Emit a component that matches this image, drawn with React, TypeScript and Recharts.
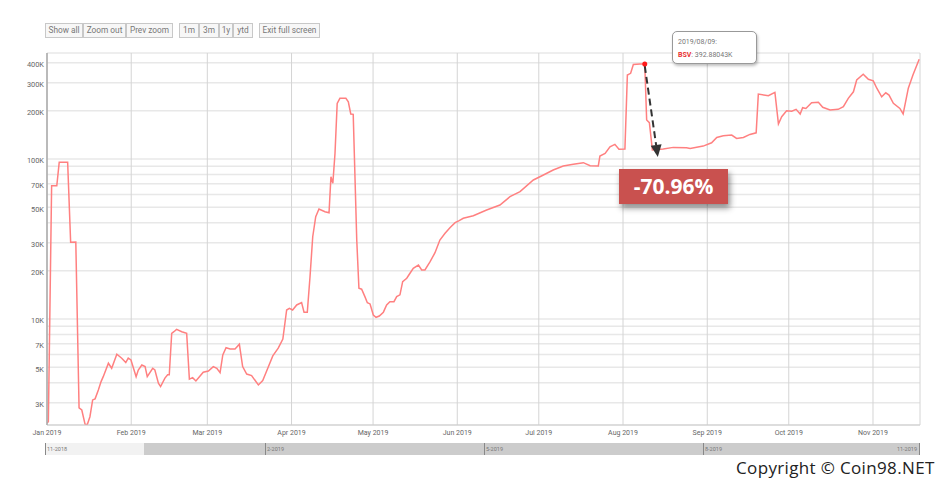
import React from 'react';
import { LineChart, Line, XAxis, YAxis, CartesianGrid, ReferenceLine, ReferenceDot } from 'recharts';

// days since 2019-01-01
const days = [
  0, 0.5, 1.7, 3.6, 4.5, 7.6, 8.7, 10.6, 11.8, 12.8, 14.0, 14.8, 15.8, 16.8, 17.7, 18.9, 19.9, 20.7,
  22.6, 23.8, 25.7, 27.5, 29.0, 29.9, 30.9, 32.8, 33.6, 34.9, 36.1, 36.9, 38.9, 39.7, 41.0, 41.8,
  43.4, 44.4, 45.0, 45.9, 46.7, 47.7, 49.6, 51.4, 52.4, 53.6, 54.8, 56.1, 57.5, 59.4, 61.2, 62.5,
  63.7, 64.7, 65.9, 67.4, 69.2, 70.8, 72.0, 73.5, 75.3, 77.8, 79.4, 81.4, 83.1, 85.1, 86.8, 88.2,
  89.2, 90.4, 91.9, 93.7, 94.6, 95.8, 96.8, 97.8, 98.9, 100.1, 102.3, 103.8, 104.5, 105.2, 106.0,
  106.8, 107.8, 110.0, 110.9, 111.8, 112.7, 114.0, 114.8, 115.8, 117.0, 117.9, 118.9, 120.1, 121.1,
  122.3, 123.8, 125.0, 126.2, 127.7, 128.7, 129.9, 130.9, 132.4, 133.6, 134.8, 136.7, 137.9, 139.1,
  141.0, 142.8, 144.6, 146.5, 148.3, 150.2, 151.7, 153.2, 156.9, 161.8, 166.7, 170.4, 174.1, 179.0,
  182.7, 186.3, 190.0, 193.7, 197.4, 199.9, 202.9, 203.5, 205.4, 207.2, 209.0, 210.5, 212.7, 213.6,
  214.8, 215.8, 218.2, 220, 220.7, 221.7, 222.8, 226.8, 230.5, 235.4, 236.7, 241.5, 244.6, 246.5,
  248.9, 252.0, 253.8, 256.3, 258.7, 261.0, 261.8, 265.5, 267.9, 269.2, 270.4, 272.2, 274.1, 275.7,
  277.2, 278.1, 279.3, 281.4, 283.9, 285.5, 288.2, 291.2, 293.1, 294.9, 296.8, 298.0, 300.4, 302.3,
  304.1, 305.4, 307.2, 308.7, 309.9, 311.5, 313.9, 315.1, 317.0, 318.7, 321.0,
];

const prices = [
  2240, 2280, 68000, 68000, 95400, 95400, 30200, 30300, 2780, 2700, 2200, 2180, 2450, 3120, 3170, 3600, 4060, 4360,
  5290, 4920, 6020, 5690, 5340, 5690, 5550, 4360, 4800, 5160, 5040, 4360, 4920, 4800, 3970, 3780,
  4270, 4480, 4480, 8140, 8330, 8620, 8330, 8140, 4210, 4300, 4100, 4360, 4650, 4730, 5040, 4920,
  4620, 5960, 6610, 6500, 6500, 6950, 5040, 4530, 4430, 3870, 4120, 4990, 5880, 6570, 7500, 11380,
  11660, 11380, 12240, 12650, 11010, 11030, 18380, 32680, 43560, 48690, 46840, 46170, 77500, 70500, 108500,
  222700, 239300, 239300, 227800, 191200, 190300, 31200, 15570, 15350, 13800, 12650, 12420, 10590, 10250,
  10440, 11030, 12240, 12830, 12830, 13800, 14150, 17120, 17970, 19310, 20740, 21740, 20250, 20250,
  22800, 25960, 31170, 34330, 37220, 40000, 41200, 42600, 44230, 48000, 51560, 58140, 62470, 73940,
  79460, 85400, 90460, 92700, 94850, 90880, 90460, 104400, 108500, 119300, 123500, 114900, 115400, 334800,
  343100, 390000, 393000, 392880.43, 175400, 168700, 114100, 115400, 118200, 117500, 116500, 120400, 126300, 136400,
  139600, 141000, 134400, 136300, 142400, 145700, 254400, 248400, 260800, 165600, 183900, 200400, 199100, 204400,
  191200, 209200, 206900, 224700, 226100, 210500, 202400, 204400, 212300, 239300, 263000, 311800, 338300, 314900,
  307900, 276900, 244800, 259300, 250900, 222700, 206900, 191200, 276900, 334800, 419700,
];

const monthTicks = [0, 31, 59, 90, 120, 151, 181, 212, 243, 273, 304];
const monthLabels = ['Jan 2019', 'Feb 2019', 'Mar 2019', 'Apr 2019', 'May 2019', 'Jun 2019', 'Jul 2019', 'Aug 2019', 'Sep 2019', 'Oct 2019', 'Nov 2019'];

const gridValues = [3000, 4000, 5000, 6000, 7000, 8000, 9000, 10000, 20000, 30000, 40000, 50000, 60000, 70000, 80000, 90000, 100000, 200000, 300000, 400000];
const labeledValues = [3000, 5000, 7000, 10000, 20000, 30000, 50000, 70000, 100000, 200000, 300000, 400000];

const seriesName = 'BSV';
const peakDate = '2019/08/09';
const peakDay = 220;
const peakValue = 392880.43;
const troughValue = 114100;
const arrowEnd = { day: 224.8, value: 103000 };

const navLabels = ['11-2018', '2-2019', '5-2019', '8-2019', '11-2019'];
const buttonGroups = [
  ['Show all', 'Zoom out', 'Prev zoom'],
  ['1m', '3m', '1y', 'ytd'],
  ['Exit full screen'],
];

const data = days.map((d, i) => ({ d, v: prices[i] }));

const fmtK = (v: number) => `${v / 1000}K`;

const YTick = (props: any) => {
  const { x, y, payload } = props;
  if (!labeledValues.includes(payload.value)) return null;
  return (
    <text x={x} y={y + 2.5} textAnchor="end" dominantBaseline="middle" fontSize={7.4} fill="#666" fontFamily="Roboto">
      {fmtK(payload.value)}
    </text>
  );
};

const ArrowShape = (p: any) => {
  const { x1, y1, x2, y2 } = p;
  if ([x1, y1, x2, y2].some((n) => typeof n !== 'number')) return null;
  const ang = Math.atan2(y2 - y1, x2 - x1);
  const headLen = 12;
  const headW = 5.5;
  const bx = x2 - headLen * Math.cos(ang);
  const by = y2 - headLen * Math.sin(ang);
  const px = -Math.sin(ang) * headW;
  const py = Math.cos(ang) * headW;
  return (
    <g>
      <line x1={x1} y1={y1 + 2} x2={bx} y2={by} stroke="#333" strokeWidth={2} strokeDasharray="7 4" />
      <polygon points={`${x2},${y2} ${bx + px},${by + py} ${bx - px},${by - py}`} fill="#333" />
    </g>
  );
};

const btnPos: number[][] = [
  [45, 83, 126, 173],
  [179, 199, 219, 233, 253],
  [259, 320],
];

export default function App() {
  const drop = (((troughValue - peakValue) / peakValue) * 100).toFixed(2) + '%';
  const peakText = (peakValue / 1000).toFixed(5) + 'K';
  return (
    <div style={{ position: 'absolute', left: 0, top: 0, width: 944, height: 482, background: '#fff', overflow: 'hidden', fontFamily: 'Roboto' }}>
      {buttonGroups.map((g, gi) =>
        g.map((label, bi) => (
          <div
            key={label}
            style={{
              position: 'absolute',
              left: btnPos[gi][bi],
              top: 23,
              width: btnPos[gi][bi + 1] - btnPos[gi][bi],
              height: 15,
              boxSizing: 'border-box',
              border: '1px solid #c8c8c8',
              background: '#f7f7f7',
              color: '#777',
              fontSize: 8.3,
              lineHeight: '13px',
              textAlign: 'center',
              whiteSpace: 'nowrap',
            }}
          >
            {label}
          </div>
        ))
      )}
      <LineChart width={944} height={482} data={data} margin={{ top: 53, right: 24, bottom: 37, left: 0 }}>
        <CartesianGrid horizontal={true} vertical={false} stroke="#e8e8e8" strokeWidth={1.5} />
        <CartesianGrid horizontal={false} vertical={true} stroke="#d4d4d4" strokeWidth={1} />
        <XAxis
          dataKey="d"
          type="number"
          domain={[0, 321.3]}
          allowDataOverflow
          ticks={monthTicks}
          interval={0}
          tickFormatter={(t: number) => monthLabels[monthTicks.indexOf(t)]}
          tick={{ fontSize: 7, fill: '#666', fontFamily: 'Roboto' }}
          tickLine={false}
          tickSize={0}
          tickMargin={5}
          axisLine={{ stroke: '#ccc' }}
          height={20}
        />
        <YAxis
          scale="log"
          domain={[2175, 459700]}
          allowDataOverflow
          ticks={gridValues}
          interval={0}
          tick={<YTick />}
          tickLine={false}
          tickSize={0}
          tickMargin={3}
          axisLine={{ stroke: '#aaa', strokeWidth: 1.5 }}
          width={47}
        />
        <Line type="linear" dataKey="v" stroke="#ff8080" strokeWidth={1.5} dot={false} activeDot={false} isAnimationActive={false} />
        <ReferenceLine
          segment={[
            { x: peakDay, y: peakValue },
            { x: arrowEnd.day, y: arrowEnd.value },
          ]}
          shape={ArrowShape}
          ifOverflow="visible"
        />
        <ReferenceDot x={peakDay} y={peakValue} r={2.5} fill="#ff1a1a" stroke="none" />
      </LineChart>

      {/* tooltip */}
      <div
        style={{
          position: 'absolute',
          left: 672,
          top: 31,
          width: 85,
          height: 33,
          boxSizing: 'border-box',
          border: '1.5px solid #999',
          borderRadius: 5,
          background: '#fff',
          boxShadow: '1px 2px 3px rgba(0,0,0,0.25)',
          fontSize: 7,
          color: '#777',
          padding: '4px 0 0 5px',
          lineHeight: '13px',
          whiteSpace: 'nowrap',
        }}
      >
        <div>{peakDate}:</div>
        <div>
          <span style={{ color: '#e83030', fontWeight: 700 }}>{seriesName}</span>: {peakText}
        </div>
      </div>

      {/* drop label */}
      <div
        style={{
          position: 'absolute',
          left: 619,
          top: 169,
          width: 109,
          height: 35,
          background: '#c9514f',
          boxShadow: '2px 4px 6px rgba(0,0,0,0.45)',
          color: '#fff',
          fontFamily: 'Open Sans',
          fontWeight: 700,
          fontSize: 21,
          lineHeight: '35px',
          textAlign: 'center',
          whiteSpace: 'nowrap',
        }}
      >
        {drop}
      </div>

      {/* navigator */}
      <div style={{ position: 'absolute', left: 45, top: 443, width: 875, height: 12, background: '#cccccc' }} />
      <div style={{ position: 'absolute', left: 45, top: 443, width: 99, height: 12, background: '#f2f2f2' }} />
      {[45, 265, 484, 703, 919].map((x, i) => (
        <React.Fragment key={x}>
          <div style={{ position: 'absolute', left: x, top: 443, width: 1, height: 12, background: '#888' }} />
          <div
            style={{
              position: 'absolute',
              left: i === 4 ? x - 26 : x + 2,
              top: 443,
              width: 24,
              height: 12,
              fontSize: 5.5,
              lineHeight: '12px',
              color: '#777',
              textAlign: i === 4 ? 'right' : 'left',
              whiteSpace: 'nowrap',
            }}
          >
            {navLabels[i]}
          </div>
        </React.Fragment>
      ))}

      <div
        style={{
          position: 'absolute',
          left: 736,
          top: 457,
          fontFamily: 'Open Sans',
          fontSize: 17,
          letterSpacing: 0.35,
          color: '#222',
          whiteSpace: 'nowrap',
          lineHeight: '22px',
        }}
      >
        Copyright © Coin98.NET
      </div>
    </div>
  );
}
